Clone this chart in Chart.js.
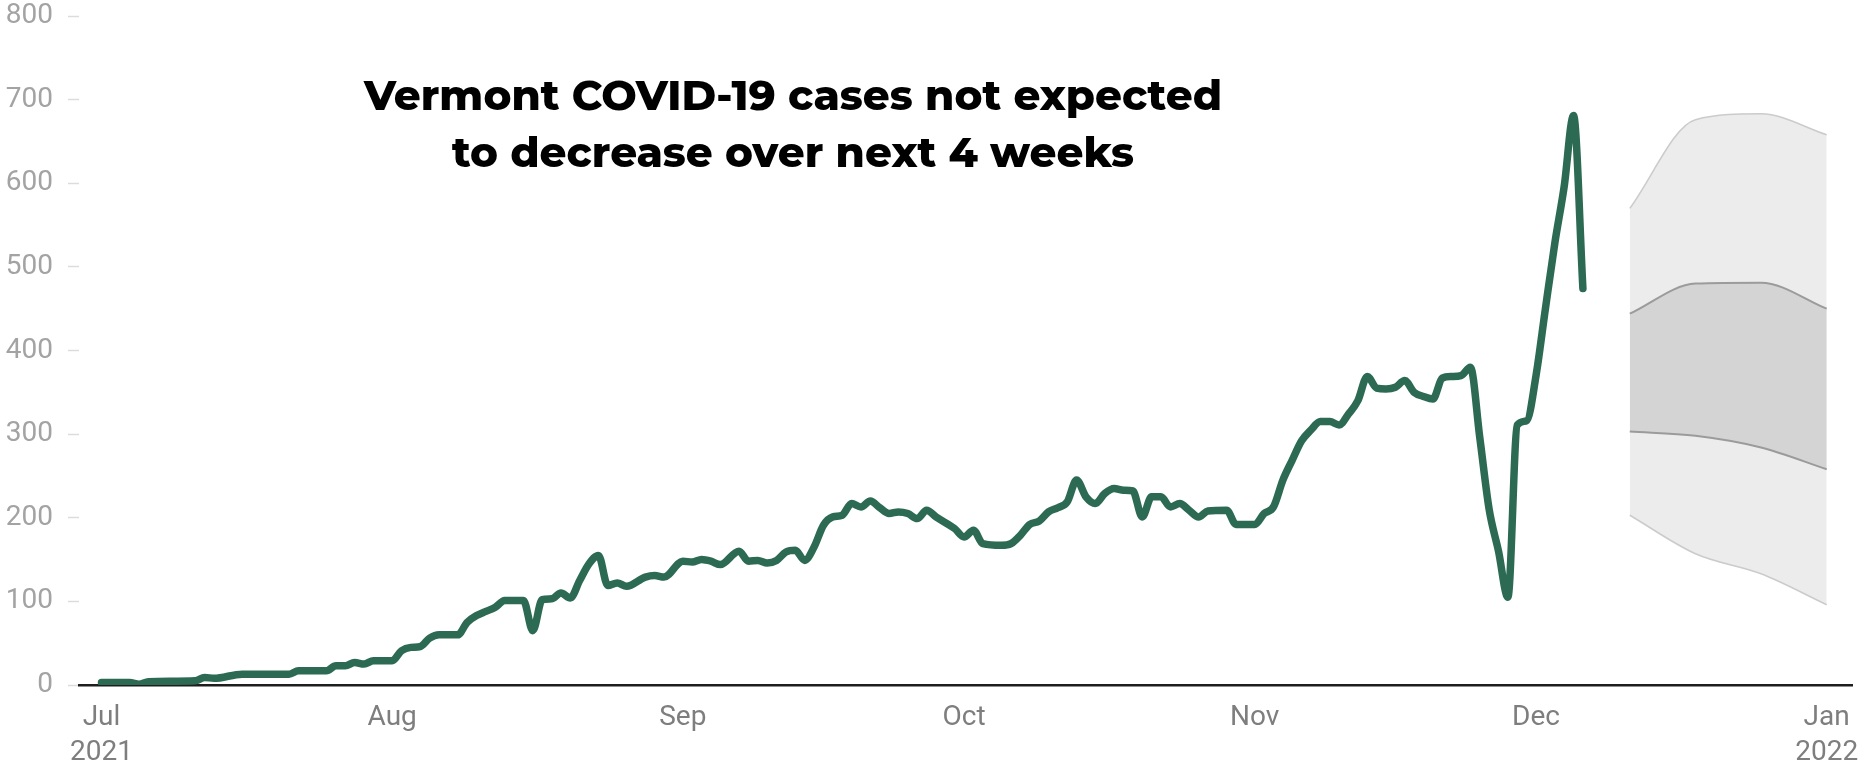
<!DOCTYPE html>
<html>
<head>
<meta charset="utf-8">
<script src="https://cdn.jsdelivr.net/npm/chart.js@4.4.0/dist/chart.umd.min.js"></script>
<style>
  html, body { margin: 0; padding: 0; background: #fff; }
  .wrap { position: relative; width: 1866px; height: 763px; }
  .chart-title {
    position: absolute; left: 0; top: 67px; width: 1586px;
    text-align: center; color: #000;
    font-family: Montserrat, Lato, sans-serif; font-weight: 800;
    font-size: 42px; line-height: 57px;
  }
</style>
</head>
<body>
<div class="wrap">
  <canvas id="chart" width="1866" height="763"></canvas>
  <div class="chart-title">Vermont COVID-19 cases not expected<br>to decrease over next 4 weeks</div>
</div>
<script>
// Daily cases (7-day average), Jul 1 2021 -> Dec 6 2021
const caseDates = [
  '2021-07-01','2021-07-04','2021-07-05','2021-07-06','2021-07-11','2021-07-12','2021-07-13','2021-07-16',
  '2021-07-21','2021-07-22','2021-07-25','2021-07-26','2021-07-27','2021-07-28','2021-07-29','2021-07-30',
  '2021-08-01','2021-08-02','2021-08-03','2021-08-04','2021-08-05','2021-08-06','2021-08-08','2021-08-09',
  '2021-08-10','2021-08-11','2021-08-12','2021-08-13','2021-08-15','2021-08-16','2021-08-17','2021-08-18',
  '2021-08-19','2021-08-20','2021-08-21','2021-08-22','2021-08-23','2021-08-24','2021-08-25','2021-08-26',
  '2021-08-28','2021-08-29','2021-08-30','2021-09-01','2021-09-02','2021-09-03','2021-09-04','2021-09-05',
  '2021-09-07','2021-09-08','2021-09-09','2021-09-10','2021-09-11','2021-09-12','2021-09-13','2021-09-14',
  '2021-09-15','2021-09-16','2021-09-17','2021-09-18','2021-09-19','2021-09-20','2021-09-21','2021-09-22',
  '2021-09-23','2021-09-24','2021-09-25','2021-09-26','2021-09-27','2021-09-28','2021-09-30','2021-10-01',
  '2021-10-02','2021-10-03','2021-10-05','2021-10-06','2021-10-07','2021-10-08','2021-10-09','2021-10-10',
  '2021-10-11','2021-10-12','2021-10-13','2021-10-14','2021-10-15','2021-10-16','2021-10-17','2021-10-18',
  '2021-10-19','2021-10-20','2021-10-21','2021-10-22','2021-10-23','2021-10-24','2021-10-25','2021-10-26',
  '2021-10-27','2021-10-29','2021-10-30','2021-11-01','2021-11-02','2021-11-03','2021-11-04','2021-11-05',
  '2021-11-06','2021-11-07','2021-11-08','2021-11-09','2021-11-10','2021-11-11','2021-11-12','2021-11-13',
  '2021-11-14','2021-11-15','2021-11-16','2021-11-17','2021-11-18','2021-11-19','2021-11-20','2021-11-21',
  '2021-11-22','2021-11-23','2021-11-24','2021-11-25','2021-11-26','2021-11-27','2021-11-28','2021-11-29',
  '2021-11-30','2021-12-01','2021-12-02','2021-12-03','2021-12-04','2021-12-05','2021-12-06'
];
const caseValues = [
  3, 3, 1, 4, 5, 9, 8, 13,
  13, 17, 17, 23, 23, 27, 25, 29,
  29, 41, 45, 46, 56, 60, 60, 75,
  83, 88, 93, 101, 101, 65, 102, 103,
  110, 104, 125, 145, 155, 119, 122, 118,
  129, 131, 129, 148, 147, 150, 148, 144,
  160, 148, 149, 146, 149, 159, 161, 149,
  165, 191, 201, 203, 217, 213, 220, 212,
  205, 207, 205, 199, 209, 201, 187, 177,
  185, 169, 167, 169, 179, 192, 196, 207,
  212, 219, 245, 225, 217, 229, 235, 233,
  232, 201, 225, 225, 213, 217, 209, 201,
  208, 209, 192, 192, 205, 213, 245, 269,
  292, 305, 315, 315, 311, 324, 340, 369,
  355, 354, 356, 364, 350, 345, 342, 367,
  369, 370, 380, 296, 210, 160, 105, 311,
  316, 370, 450, 528, 596, 681, 474
];

// Forecast ensemble, weekly
const forecastDates = ['2021-12-11', '2021-12-18', '2021-12-25', '2022-01-01'];
const outerUpper = [570, 676, 683, 658];
const innerUpper = [444, 480, 481, 450];
const innerLower = [303, 298, 284, 258];
const outerLower = [203, 157, 133, 96];

// Axis
const monthDates = ['2021-07-01','2021-08-01','2021-09-01','2021-10-01','2021-11-01','2021-12-01','2022-01-01'];
const monthLabels = [['Jul', '2021'], ['Aug'], ['Sep'], ['Oct'], ['Nov'], ['Dec'], ['Jan', '2022']];
const yTicks = [0, 100, 200, 300, 400, 500, 600, 700, 800];

const ORIGIN = Date.UTC(2021, 6, 1);
function dayOf(s) {
  const [y, m, d] = s.split('-').map(Number);
  return (Date.UTC(y, m - 1, d) - ORIGIN) / 86400000;
}
function pts(dates, vals) {
  return dates.map((d, i) => ({ x: dayOf(d), y: vals[i] }));
}

const band = (vals, extra) => Object.assign({
  data: pts(forecastDates, vals),
  pointRadius: 0,
  cubicInterpolationMode: 'monotone',
  fill: false
}, extra);

new Chart(document.getElementById('chart'), {
  type: 'line',
  data: {
    datasets: [
      {
        data: pts(caseDates, caseValues),
        borderColor: '#2c6a53',
        borderWidth: 7.5,
        borderCapStyle: 'round',
        borderJoinStyle: 'round',
        pointRadius: 0,
        cubicInterpolationMode: 'monotone',
        fill: false,
        order: 0
      },
      band(innerUpper, { borderColor: '#9b9b9b', borderWidth: 2, fill: '+1', backgroundColor: '#d4d4d4', order: 3 }),
      band(innerLower, { borderColor: '#9b9b9b', borderWidth: 2, order: 2 }),
      band(outerUpper, { borderColor: '#cbcbcb', borderWidth: 1.5, fill: '+1', backgroundColor: '#ececec', order: 5 }),
      band(outerLower, { borderColor: '#cbcbcb', borderWidth: 1.5, order: 4 })
    ]
  },
  options: {
    responsive: false,
    animation: false,
    layout: { padding: { top: 0, right: 14, left: 0, bottom: 0 } },
    plugins: { legend: { display: false }, tooltip: { enabled: false } },
    scales: {
      x: {
        type: 'linear',
        min: -2.4,
        max: 186.7,
        afterBuildTicks: (s) => { s.ticks = monthDates.map(d => ({ value: dayOf(d) })); },
        afterFit: (s) => { s.height = 78; s.paddingLeft = 0; s.paddingRight = 0; },
        grid: { display: false },
        border: { display: true, color: '#1e1e1e', width: 2.5 },
        ticks: {
          autoSkip: false,
          maxRotation: 0,
          padding: 7,
          color: '#7e7e7e',
          font: { family: 'Roboto', size: 28, lineHeight: 1.25 },
          callback: (v, i) => monthLabels[i]
        }
      },
      y: {
        min: 0,
        max: 800,
        afterBuildTicks: (s) => { s.ticks = yTicks.map(v => ({ value: v })); },
        afterFit: (s) => { s.width = 79; s.paddingTop = 16; s.paddingBottom = 0; },
        border: { display: false },
        grid: { drawOnChartArea: false, drawTicks: true, tickLength: 11, tickColor: '#dcdcdc', tickWidth: 1.5 },
        ticks: {
          padding: 15,
          color: '#a3a3a3',
          font: { family: 'Roboto', size: 28 }
        }
      }
    }
  }
});
</script>
</body>
</html>
